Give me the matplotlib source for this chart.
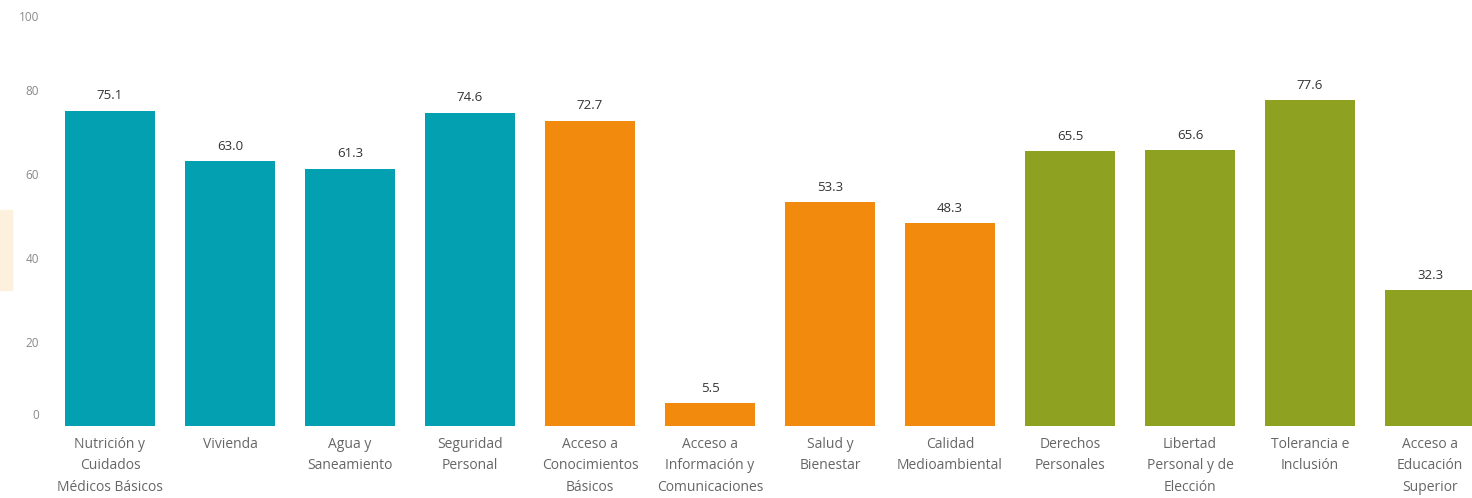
import matplotlib
matplotlib.use("Agg")
import matplotlib.pyplot as plt
import matplotlib.patches as mpatches
from matplotlib.transforms import offset_copy

plt.rcParams['font.family'] = ['Open Sans', 'DejaVu Sans']

categories = [
    "Nutrición y\nCuidados\nMédicos Básicos", "Vivienda", "Agua y\nSaneamiento",
    "Seguridad\nPersonal", "Acceso a\nConocimientos\nBásicos",
    "Acceso a\nInformación y\nComunicaciones", "Salud y\nBienestar",
    "Calidad\nMedioambiental", "Derechos\nPersonales", "Libertad\nPersonal y de\nElección",
    "Tolerancia e\nInclusión", "Acceso a\nEducación\nSuperior",
]
values = [75.1, 63.0, 61.3, 74.6, 72.7, 5.5, 53.3, 48.3, 65.5, 65.6, 77.6, 32.3]
groups = ["basic"] * 4 + ["wellbeing"] * 4 + ["opportunity"] * 4
group_colors = {"basic": "#03a0b2", "wellbeing": "#f28a0e", "opportunity": "#8fa120"}
yticks = [0, 20, 40, 60, 80, 100]

fig = plt.figure(figsize=(14.72, 4.98), dpi=100)
ax = fig.add_axes([50 / 1472, 72 / 498, 1422 / 1472, 420 / 498])

x = range(len(values))
ax.bar(x, values, width=0.75, color=[group_colors[g] for g in groups])

for xi, v in zip(x, values):
    ax.annotate(f"{v:.1f}", (xi, v), xytext=(0, 6), textcoords="offset points",
                ha="center", va="bottom", fontsize=9.5, color="#333333")

ax.set_xlim(-0.5, 11.35)
ax.set_ylim(0, 100)
ax.set_yticks(yticks)
ax.set_xticks(list(x))
ax.set_xticklabels(categories, fontsize=10, color="#666666", linespacing=1.57, va="top")
ax.tick_params(axis="x", length=0, pad=8)
ax.tick_params(axis="y", length=0, pad=8, labelsize=8.5, labelcolor="#8a8a8a")
# end labels are kept inside the plot area, like the original
ylabels = ax.get_yticklabels()
ylabels[0].set_transform(offset_copy(ylabels[0].get_transform(), fig=fig, x=0, y=12, units="dots"))
ylabels[-1].set_transform(offset_copy(ylabels[-1].get_transform(), fig=fig, x=0, y=-10, units="dots"))
for s in ax.spines.values():
    s.set_visible(False)

# faint highlight strip at left edge
fig.patches.append(mpatches.Rectangle((0, (498 - 290) / 498), 12 / 1472, 80 / 498,
                                      transform=fig.transFigure, color="#fdf1de", zorder=0))

fig.savefig("out.png", dpi=100)
